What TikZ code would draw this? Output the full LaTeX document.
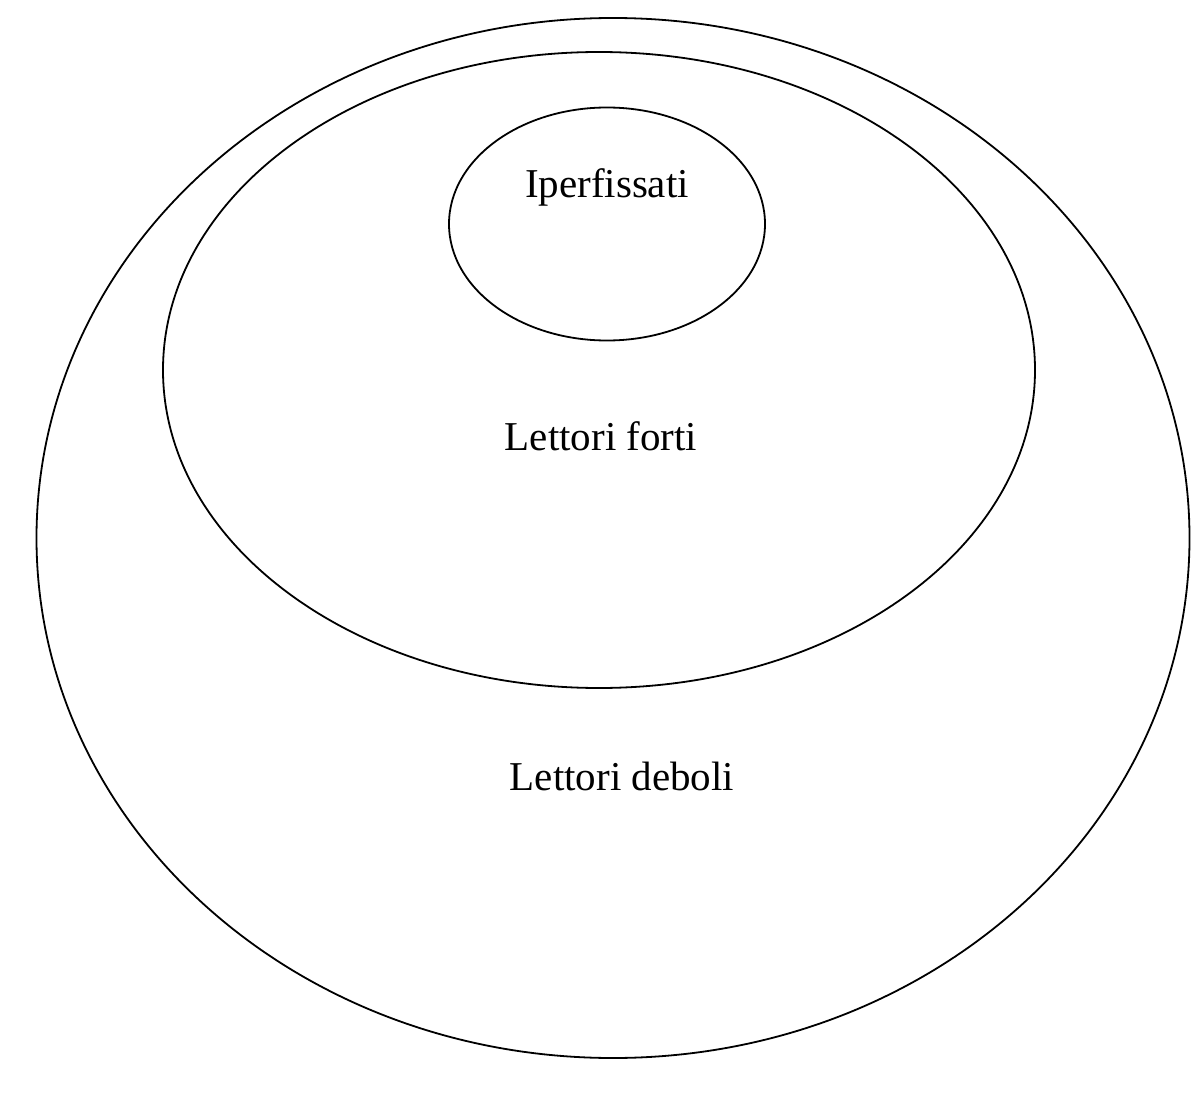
\documentclass[tikz,border=0pt]{standalone}
\usepackage{fontspec}
\setmainfont{Liberation Serif}
\usetikzlibrary{shapes.geometric}
\tikzset{
  ring/.style  = {draw, ellipse, line width=1.8pt, inner sep=0pt},
  tag/.style   = {anchor=base, inner sep=0pt, font=\fontsize{41}{48}\selectfont},
}
\begin{document}
\begin{tikzpicture}[x=1pt,y=-1pt]
\useasboundingbox (0,0) rectangle (1200,1102);
\node[ring, minimum width=1153pt, minimum height=1040pt] (deboli) at (613,538) {};
\node[ring, minimum width=872pt, minimum height=636pt] (forti) at (599,370) {};
\node[ring, minimum width=316pt, minimum height=233pt] (iper) at (607,224) {};
\node[tag] (iperlab) at (607,198) {Iperfissati};
\node[tag] (fortilab) at (601,450) {Lettori forti};
\node[tag] (debolilab) at (622,790) {Lettori deboli};
\end{tikzpicture}
\end{document}
